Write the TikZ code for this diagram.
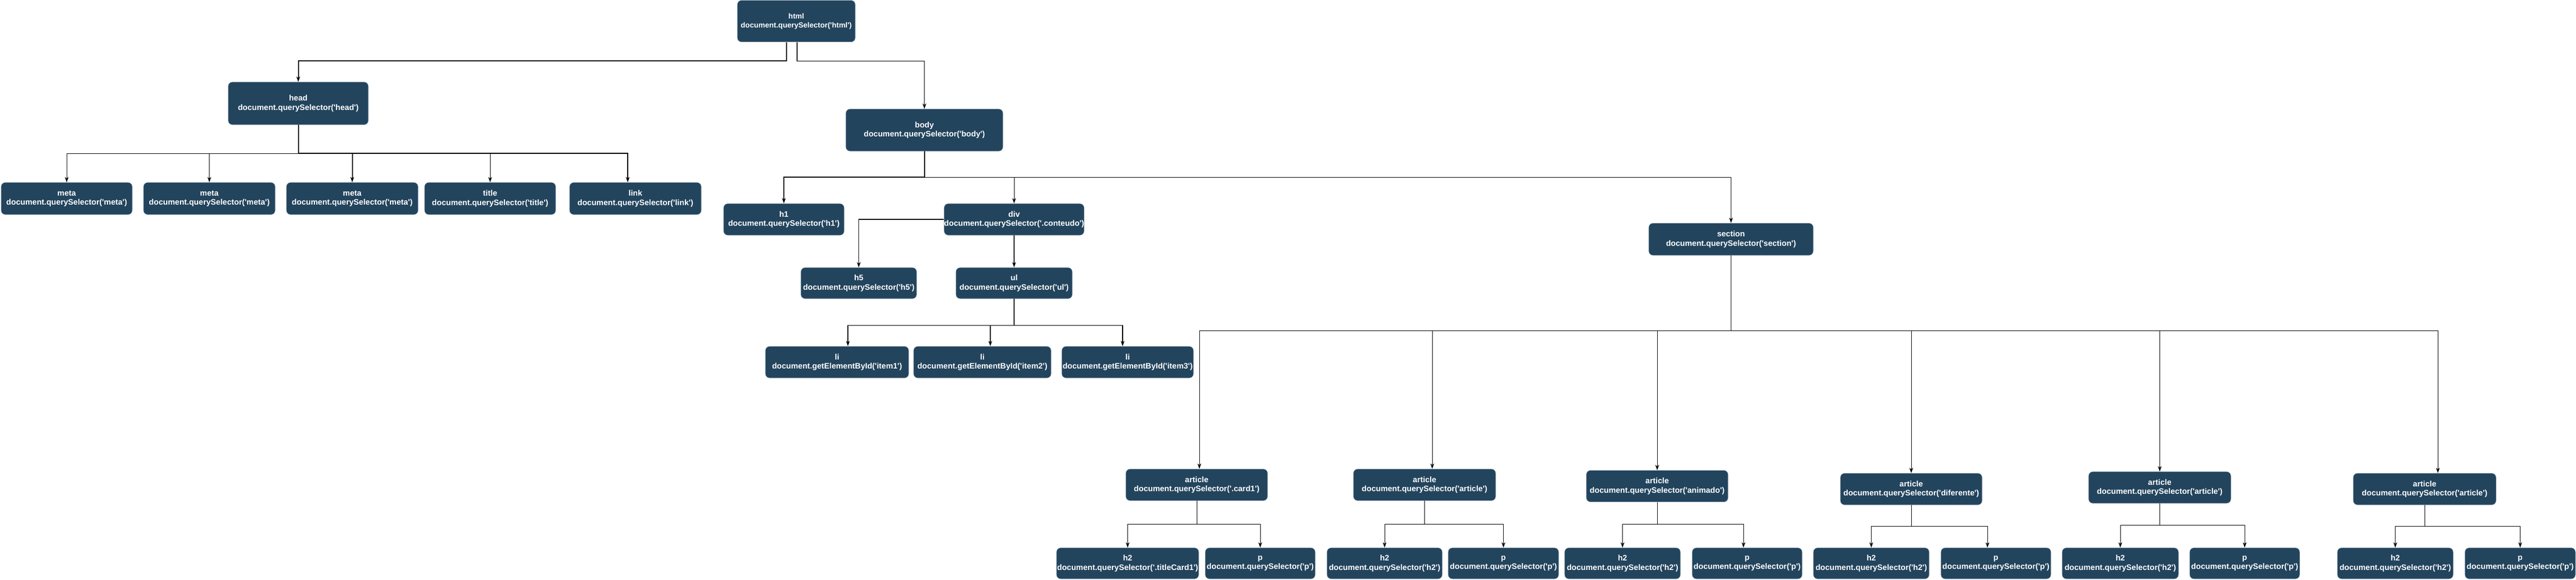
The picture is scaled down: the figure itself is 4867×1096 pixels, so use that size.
\documentclass[tikz,border=0pt]{standalone}
\usepackage{fontspec}
\setmainfont{Liberation Sans}
\usetikzlibrary{arrows.meta}
\definecolor{boxfill}{HTML}{23445D}
\definecolor{boxline}{HTML}{BAC8D3}
\newcommand\qs{\textquotesingle}
\newcommand\qsel[1]{document.querySelector(\qs#1\qs)}
\newcommand\gid[1]{document.getElementById(\qs#1\qs)}
\tikzset{
  box/.style={rectangle, rounded corners=8pt, fill=boxfill, draw=boxline, line width=0.6pt,
    text=white, font=\fontsize{15}{17.5}\selectfont\bfseries, align=center, inner sep=0pt,
    minimum height=60pt},
  conn/.style={draw=black, line width=1.3pt, -{Stealth[length=10pt,width=7pt,inset=3pt]}},
  thinconn/.style={conn, line width=0.9pt},
  thickconn/.style={conn, line width=2pt},
  bus/.style={draw=black, line width=1.6pt}
}
\begin{document}
\begin{tikzpicture}[x=1pt,y=-1pt]
\useasboundingbox (0,0) rectangle (4867,1096);
% level 0-1
\node[box, minimum width=223pt, minimum height=79pt, font=\fontsize{14}{17}\selectfont\bfseries] (html) at (1504.5,40) {html\\\qsel{html}};
\node[box, minimum width=265pt, minimum height=81pt] (head) at (563.5,195.5) {head\\\qsel{head}};
\node[box, minimum width=297pt, minimum height=80pt] (body) at (1746.5,246) {body\\\qsel{body}};
% head children
\node[box, minimum width=248pt, minimum height=61pt] (meta1) at (126,375.5) {meta\\\qsel{meta}};
\node[box, minimum width=249pt, minimum height=61pt] (meta2) at (395.5,375.5) {meta\\\qsel{meta}};
\node[box, minimum width=249pt, minimum height=61pt] (meta3) at (665.5,375.5) {meta\\\qsel{meta}};
\node[box, minimum width=248pt, minimum height=61pt] (title) at (926,375.5) {title\\\qsel{title}};
\node[box, minimum width=249pt, minimum height=61pt] (link) at (1200.5,375.5) {link\\\qsel{link}};
% body children
\node[box, minimum width=228pt] (h1) at (1481,415) {h1\\\qsel{h1}};
\node[box, minimum width=260pt] (div) at (1916,415) {div\\\qsel{.conteudo}};
\node[box, minimum width=311pt, minimum height=61pt] (section) at (3270.5,452.5) {section\\\qsel{section}};
\node[box, minimum width=219pt, minimum height=59pt] (h5) at (1622.5,535.5) {h5\\\qsel{h5}};
\node[box, minimum width=220pt, minimum height=59pt] (ul) at (1916,535.5) {ul\\\qsel{ul}};
\node[box, minimum width=271pt] (li1) at (1581.5,685) {li\\\gid{item1}};
\node[box, minimum width=260pt] (li2) at (1856,685) {li\\\gid{item2}};
\node[box, minimum width=249pt] (li3) at (2130.5,685) {li\\\gid{item3}};
% articles
\node[box, minimum width=268pt] (art1) at (2261,917) {article\\\qsel{.card1}};
\node[box, minimum width=269pt] (art2) at (2691.5,917) {article\\\qsel{article}};
\node[box, minimum width=268pt] (art3) at (3131,919.5) {article\\\qsel{animado}};
\node[box, minimum width=268pt] (art4) at (3611,925) {article\\\qsel{diferente}};
\node[box, minimum width=269pt] (art5) at (4080.5,922) {article\\\qsel{article}};
\node[box, minimum width=270pt] (art6) at (4581,925) {article\\\qsel{article}};
% leaves
\node[box, minimum width=269pt, minimum height=59pt] (h2a) at (2130.5,1065.5) {h2\\\qsel{.titleCard1}};
\node[box, minimum width=208pt, minimum height=59pt] (pa) at (2381,1065.5) {p\\\qsel{p}};
\node[box, minimum width=218pt, minimum height=59pt] (h2b) at (2616,1065.5) {h2\\\qsel{h2}};
\node[box, minimum width=209pt, minimum height=59pt] (pb) at (2840.5,1065.5) {p\\\qsel{p}};
\node[box, minimum width=219pt, minimum height=59pt] (h2c) at (3065.5,1065.5) {h2\\\qsel{h2}};
\node[box, minimum width=208pt, minimum height=59pt] (pc) at (3301,1065.5) {p\\\qsel{p}};
\node[box, minimum width=219pt, minimum height=59pt] (h2d) at (3535.5,1065.5) {h2\\\qsel{h2}};
\node[box, minimum width=208pt, minimum height=59pt] (pd) at (3771,1065.5) {p\\\qsel{p}};
\node[box, minimum width=220pt, minimum height=59pt] (h2e) at (4006,1065.5) {h2\\\qsel{h2}};
\node[box, minimum width=208pt, minimum height=59pt] (pe) at (4241,1065.5) {p\\\qsel{p}};
\node[box, minimum width=219pt, minimum height=59pt] (h2f) at (4525.5,1065.5) {h2\\\qsel{h2}};
\node[box, minimum width=209pt, minimum height=59pt] (pf) at (4761.5,1065.5) {p\\\qsel{p}};
% connectors
\draw[thickconn] ([xshift=-18.5pt]html.south) -- ++(0,35.5) -| (head.north);
\draw[conn] ([xshift=1.5pt]html.south) -- ++(0,35.5) -| (body.north);
\draw[thinconn] (head.south) -- ++(0,54) -| (meta1.north);
\draw[thinconn] (head.south) -- ++(0,54) -| (meta2.north);
\draw[thickconn] (head.south) -- ++(0,54) -| (meta3.north);
\draw[thinconn] (head.south) -- ++(0,54) -| (title.north);
\draw[thickconn] (head.south) -- ++(0,54) -| ([xshift=-14.5pt]link.north);
\draw[thickconn] (body.south) -- ++(0,49) -| (h1.north);
\draw[thinconn] (body.south) -- ++(0,49) -| (div.north);
\draw[conn] (body.south) -- ++(0,49) -| (section.north);
\draw[conn] (div.west) -| (h5.north);
\draw[conn] (div.south) -- (ul.north);
\draw[conn] (ul.south) -- ++(0,50) -| ([xshift=20.5pt]li1.north);
\draw[conn] (ul.south) -- ++(0,50) -| ([xshift=15pt]li2.north);
\draw[conn] (ul.south) -- ++(0,50) -| ([xshift=-9.5pt]li3.north);
\coordinate (b1) at ([xshift=5pt]art1.north);
\coordinate (b2) at ([xshift=14.5pt]art2.north);
\coordinate (b6) at ([xshift=25pt]art6.north);
\draw[thinconn] (section.south) -- ++(0,142) -| (b1);
\draw[thinconn] (section.south) -- ++(0,142) -| (b2);
\draw[thinconn] (section.south) -- ++(0,142) -| (art3.north);
\draw[thinconn] (section.south) -- ++(0,142) -| (art4.north);
\draw[thinconn] (section.south) -- ++(0,142) -| (art5.north);
\draw[thinconn] (section.south) -- ++(0,142) -| (b6);
\path (section.south) -- ++(0,142) coordinate (sbus);
\draw[bus] (sbus -| b1) -- (sbus -| b6);
\draw[thinconn] (art1.south) -- ++(0,44) -| (h2a.north);
\draw[thinconn] (art1.south) -- ++(0,44) -| (pa.north);
\draw[thinconn] (art2.south) -- ++(0,44) -| (h2b.north);
\draw[thinconn] (art2.south) -- ++(0,44) -| (pb.north);
\draw[thinconn] (art3.south) -- ++(0,41.5) -| (h2c.north);
\draw[thinconn] (art3.south) -- ++(0,41.5) -| ([xshift=-7pt]pc.north);
\draw[thinconn] (art4.south) -- ++(0,40) -| (h2d.north);
\draw[thinconn] (art4.south) -- ++(0,40) -| ([xshift=-16pt]pd.north);
\draw[thinconn] (art5.south) -- ++(0,41) -| (h2e.north);
\draw[thinconn] (art5.south) -- ++(0,41) -| (pe.north);
\draw[thinconn] (art6.south) -- ++(0,40) -| (h2f.north);
\draw[thinconn] (art6.south) -- ++(0,40) -| (pf.north);
\end{tikzpicture}
\end{document}
